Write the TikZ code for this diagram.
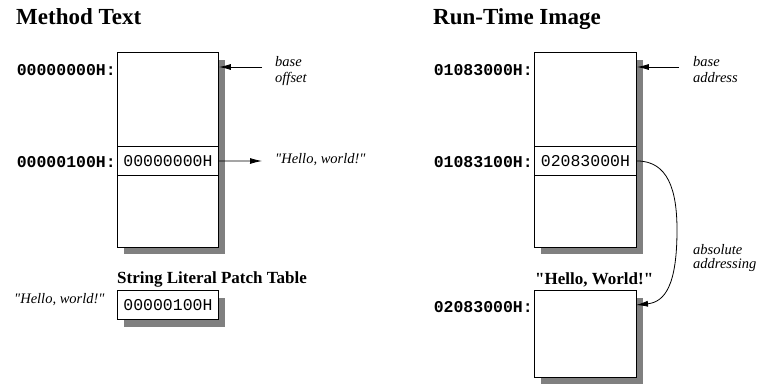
\documentclass[tikz,border=0pt]{standalone}
\usepackage{fontspec}
\setmainfont{Liberation Serif}[Ligatures=TeXOff]
\setmonofont{Liberation Mono}
\usetikzlibrary{arrows.meta}
\begin{document}
\begin{tikzpicture}[x=1pt,y=-1pt,
 box/.style={draw, line width=0.9pt, fill=white, inner sep=0pt, anchor=north west,
   font=\fontsize{16.5}{18}\selectfont\ttfamily},
 shadow/.style={fill=black!50},
 addr/.style={font=\fontsize{16.5}{18}\selectfont\ttfamily\bfseries, anchor=base east, inner sep=0pt},
 note/.style={font=\fontsize{14.5}{16}\selectfont\itshape, anchor=base west, inner sep=0pt, align=left},
 title/.style={font=\fontsize{23}{26}\selectfont\bfseries, anchor=base west, inner sep=0pt},
 sub/.style={font=\fontsize{17}{19}\selectfont\bfseries, anchor=base west, inner sep=0pt},
 arr/.style={-{Latex[length=12pt,width=6pt]}, line width=0.8pt}]
\useasboundingbox (0,0) rectangle (758,386);

% titles
\node[title] (t1) at (16,24) {Method Text};
\node[title] (t2) at (433,24) {Run-Time Image};

% shadows
\fill[shadow] (124,60) rectangle (225,254);
\fill[shadow] (124,298) rectangle (225,327);
\fill[shadow] (541,60) rectangle (643,254);
\fill[shadow] (541,298) rectangle (643,384);

% left memory
\node[box, minimum width=101pt, minimum height=195pt] (mt) at (117,52) {};
\node[box, minimum width=101pt, minimum height=29pt] (mtr) at (117,146) {00000000H};
\node[addr] (a1) at (116,75) {00000000H:};
\node[addr] (a2) at (116,167) {00000100H:};

\node[note] (bo) at (275,66) {base};
\node[note] (bo2) at (275,82) {offset};
\coordinate (boa) at (262,67);
\draw[arr] (boa) -- (mt.east |- boa);

\node[note] (hw1) at (275,163) {"Hello, world!"};
\coordinate (hwa) at (262,161);
\draw[arr] (mtr.east) -- (hwa);

% patch table
\node[sub] (pt) at (117,283) {String Literal Patch Table};
\node[box, minimum width=101pt, minimum height=29pt] (ptb) at (117,290) {00000100H};
\node[note] (hw2) at (14,303) {"Hello, world!"};

% right memory
\node[box, minimum width=102pt, minimum height=195pt] (rt) at (534,52) {};
\node[box, minimum width=102pt, minimum height=29pt] (rtr) at (534,146) {02083000H};
\node[addr] (a3) at (533,75) {01083000H:};
\node[addr] (a4) at (533,167) {01083100H:};

\node[note] (ba) at (693,66) {base};
\node[note] (ba2) at (693,82) {address};
\coordinate (baa) at (679,67);
\draw[arr] (baa) -- (rt.east |- baa);

\node[sub] (hwt) at (535,284) {"Hello, World!"};
\node[box, minimum width=102pt, minimum height=87pt] (hb) at (534,290) {};
\node[addr] (a5) at (533,312) {02083000H:};

\node[note] (ab1) at (693,254) {absolute};
\node[note] (ab2) at (693,268) {addressing};
\coordinate (hin) at (636,305);
\draw[arr] (rtr.east) .. controls (668,161) and (677,190) .. (677,230)
  .. controls (677,285) and (665,302) .. (hin);
\end{tikzpicture}
\end{document}
